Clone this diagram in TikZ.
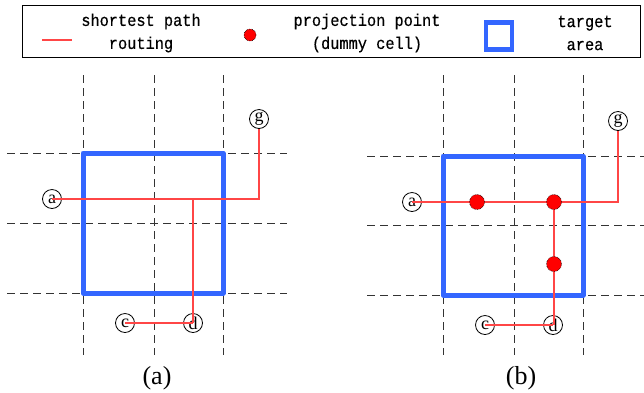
\documentclass[tikz,border=0pt]{standalone}
\usepackage{fontspec}
\setmainfont{Liberation Serif}
\newfontfamily\legfont[FakeBold=0.5,FakeStretch=0.9]{Liberation Mono}
\definecolor{areablue}{HTML}{3366FF}
\definecolor{routered}{RGB}{255,70,70}
\begin{document}
\begin{tikzpicture}[x=1pt,y=-1pt,
  gridline/.style={dash pattern=on 8pt off 5pt, black!80, line width=1pt},
  area/.style={draw=areablue, line width=5pt, line join=round},
  route/.style={draw=routered, line width=1.2pt},
  pin/.style={circle, draw, line width=0.8pt, inner sep=0pt, minimum size=19pt, font=\fontsize{18}{18}\selectfont},
  proj/.style={circle, fill=red, draw=black, densely dotted, line width=0.6pt, minimum size=15pt, inner sep=0pt},
  leg/.style={font=\legfont\fontsize{17}{23}\selectfont, align=center},
  captext/.style={font=\fontsize{26}{26}\selectfont}]
\useasboundingbox (0,0) rectangle (644,392);
% legend
\node[draw, line width=0.8pt, minimum width=618pt, minimum height=52pt, inner sep=0pt] (legbox) at (331,31) {};
\coordinate (l1) at (42,40);
\coordinate (l2) at (72,40);
\draw[route] (l1) -- (l2);
\node[leg] (t1) at (141,33) {shortest path\\routing};
\node[proj, minimum size=12pt] (ldot) at (250,35) {};
\node[leg] (t2) at (367,33) {projection point\\(dummy cell)};
\node[draw=areablue, line width=4.5pt, minimum width=26pt, minimum height=27pt, inner sep=0pt] (lsq) at (499,36) {};
\node[leg] (t3) at (585,33) {target\\area};
% ---------- panel (a) ----------
\foreach \x in {83,154,223} \draw[gridline] (\x,75) -- (\x,355);
\foreach \y in {153,223,293} \draw[gridline] (7,\y) -- (287,\y);
\draw[area] (83,153) rectangle (223,293);
\node[pin] (a) at (52,199) {a};
\node[pin] (g) at (259,119) {g};
\node[pin] (c) at (125,323) {c};
\node[pin] (d) at (193,323) {d};
\draw[route] (a.center) -- (g |- a) -- (g);
\draw[route] (d |- a) -- (d.center);
\draw[route] (c.center) -- (d.center);
\node[captext] (capa) at (157,378) {(a)};
% ---------- panel (b) ----------
\foreach \x in {443,514,583} \draw[gridline] (\x,75) -- (\x,355);
\foreach \y in {156,225,295} \draw[gridline] (367,\y) -- (644,\y);
\draw[area] (443,156) rectangle (583,295);
\node[pin] (a2) at (412,202) {a};
\node[pin] (g2) at (618,121) {g};
\node[pin] (c2) at (485,325) {c};
\node[pin] (d2) at (553,325) {d};
\coordinate (q1) at (477,202);
\coordinate (q2) at (554,202);
\coordinate (q3) at (554,264);
\draw[route] (a2.center) -- (q1) -- (q2) -- (g2 |- q2) -- (g2);
\draw[route] (q2) -- (q3) -- (q3 |- d2.center);
\draw[route] (c2.center) -- (d2.center);
\node[proj] (p1) at (q1) {};
\node[proj] (p2) at (q2) {};
\node[proj] (p3) at (q3) {};
\node[captext] (capb) at (521,378) {(b)};
\end{tikzpicture}
\end{document}
